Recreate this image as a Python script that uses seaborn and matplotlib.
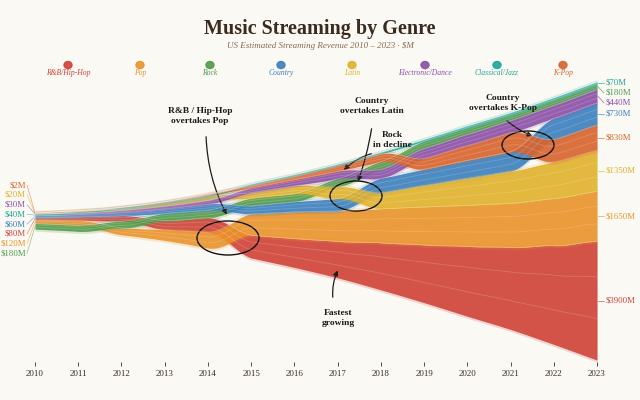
import numpy as np
import pandas as pd
import matplotlib
matplotlib.use("Agg")
import matplotlib.pyplot as plt
from matplotlib.patches import Ellipse, FancyArrowPatch
import seaborn as sns

# data ($M, US estimated streaming revenue)

years = list(range(2010, 2024))
genres = ["R&B / Hip-Hop", "Pop", "Rock", "Country", "Latin",
          "Electronic/Dance", "Classical/Jazz", "K-Pop"]
rnb = [80, 120, 180, 300, 480, 750, 950, 1200, 1550, 1900, 2300, 2700, 3250, 3900]
pop = [120, 160, 230, 350, 520, 700, 880, 1000, 1120, 1250, 1350, 1450, 1550, 1650]
rock = [180, 200, 220, 240, 250, 260, 270, 270, 260, 240, 220, 200, 190, 180]
country = [60, 80, 110, 150, 200, 260, 330, 410, 480, 540, 600, 650, 700, 730]
latin = [20, 30, 50, 80, 120, 180, 260, 380, 520, 700, 880, 1050, 1200, 1350]
electronic = [30, 45, 65, 90, 120, 160, 200, 250, 290, 330, 370, 400, 420, 440]
classical = [40, 42, 45, 48, 50, 52, 55, 58, 60, 62, 64, 66, 68, 70]
kpop = [2, 5, 10, 20, 40, 70, 110, 170, 250, 350, 480, 620, 740, 830]
colors = ["#cf4137", "#ea9228", "#4f9a48", "#3a7fbd", "#e0b12a",
          "#8a4fa6", "#1ea596", "#d8632a"]

df = pd.DataFrame({"R&B / Hip-Hop": rnb, "Pop": pop, "Rock": rock, "Country": country,
                   "Latin": latin, "Electronic/Dance": electronic,
                   "Classical/Jazz": classical, "K-Pop": kpop}, index=years)

bg = "#fbf9f4"
sns.set_theme(style="white")
plt.rcParams["font.family"] = ["Liberation Serif", "DejaVu Serif"]

fig = plt.figure(figsize=(6.4, 4.0), dpi=100, facecolor=bg)
ax = fig.add_axes([35 / 640, 1 - 362 / 400, 562 / 640, 292 / 400])
ax.set_facecolor(bg)
ax.set_xlim(2010, 2023)
ax.set_ylim(-4638, 4967)
for s in ax.spines.values():
    s.set_visible(False)

# ranked silhouette stream: smallest genre on top each year
# positions kept as fractions of the yearly total
total = df.sum(axis=1)
ftop = pd.DataFrame(index=years, columns=genres, dtype=float)
fbot = pd.DataFrame(index=years, columns=genres, dtype=float)
for y in years:
    row = df.loc[y].sort_values()
    cur = 0.0
    for g, v in row.items():
        ftop.loc[y, g] = cur
        cur += v / total[y]
        fbot.loc[y, g] = cur

steps = 40


def dense_x():
    xs = [years[i] + np.linspace(0, 1, steps, endpoint=False) for i in range(len(years) - 1)]
    return np.concatenate(xs + [[years[-1]]])


def sig(col):
    vals = np.asarray(col, dtype=float)
    out = []
    for i in range(len(vals) - 1):
        t = np.linspace(0, 1, steps, endpoint=False)
        s = 0.8 * (1 - np.cos(np.pi * t)) / 2 + 0.2 * t
        out.append(vals[i] + (vals[i + 1] - vals[i]) * s)
    return np.concatenate(out + [[vals[-1]]])


def spline(col):
    # Catmull-Rom through the yearly totals
    p = np.asarray(col, dtype=float)
    p = np.concatenate([[2 * p[0] - p[1]], p, [2 * p[-1] - p[-2]]])
    out = []
    for i in range(1, len(p) - 2):
        t = np.linspace(0, 1, steps, endpoint=False)
        p0, p1, p2, p3 = p[i - 1], p[i], p[i + 1], p[i + 2]
        out.append(0.5 * (2 * p1 + (-p0 + p2) * t + (2 * p0 - 5 * p1 + 4 * p2 - p3) * t ** 2
                          + (-p0 + 3 * p1 - 3 * p2 + p3) * t ** 3))
    return np.concatenate(out + [[p[-2]]])


x = dense_x()
T = spline(total.values)
pad = 70
for g, c in zip(genres, colors):
    top = T / 2 - sig(ftop[g]) * T
    bot = T / 2 - sig(fbot[g]) * T
    ax.fill_between(x, bot - pad, top + pad, color=c, alpha=0.2, lw=0)
    ax.fill_between(x, bot, top, color=c, alpha=0.88, lw=0)
    lines = pd.DataFrame({"x": np.concatenate([x, x]),
                          "y": np.concatenate([bot + (top - bot) * 0.35, bot + (top - bot) * 0.7]),
                          "k": ["a"] * len(x) + ["b"] * len(x)})
    sns.lineplot(data=lines, x="x", y="y", units="k", estimator=None, ax=ax,
                 color="white", alpha=0.18, lw=0.6)
    ax.plot(x, top, color="white", alpha=0.35, lw=0.5)

ax.set_xticks(years)
ax.set_xticklabels([str(y) for y in years], fontsize=6.5, color="#3a2e25")
ax.tick_params(axis="x", length=3, width=0.6, color="#3a2e25", pad=3, bottom=True)
ax.set_yticks([])
ax.set_xlabel("")
ax.set_ylabel("")


# pixel helpers
def px2data(px, py):
    xx = 2010 + (px - 35) / 562 * 13
    yy = -4638 + (362 - py) / 292 * (4967 + 4638)
    return xx, yy


def data2py(v):
    return 362 - (v + 4638) / (4967 + 4638) * 292


def center(y, g):
    return total[y] / 2 - (ftop.loc[y, g] + fbot.loc[y, g]) / 2 * total[y]


# right labels
last = years[-1]
order = df.loc[last].sort_values().index
cent = [data2py(center(last, g)) for g in order]
lab = list(cent)
for i in range(1, len(lab)):
    lab[i] = max(lab[i], lab[i - 1] + 10)
for g, cy, ly in zip(order, cent, lab):
    c = colors[genres.index(g)]
    x0, y0 = px2data(598, cy)
    x1, y1 = px2data(604, ly)
    ax.plot([x0, x1], [y0, y1], color=c, lw=0.6, alpha=0.7, clip_on=False)
    fig.text(606 / 640, 1 - ly / 400, f"${df.loc[last, g]:.0f}M", color=c,
             fontsize=6.3, va="center", ha="left")

# left labels
first = years[0]
order = df.loc[first].sort_values().index
for i, g in enumerate(order):
    c = colors[genres.index(g)]
    ly = 185 + i * 9.8
    cy = data2py(center(first, g))
    x0, y0 = px2data(27, ly)
    x1, y1 = px2data(35, cy)
    ax.plot([x0, x1], [y0, y1], color=c, lw=0.5, alpha=0.6, clip_on=False)
    fig.text(26 / 640, 1 - ly / 400, f"${df.loc[first, g]:.0f}M", color=c,
             fontsize=6.3, va="center", ha="right")

# title and legend
fig.text(0.5, 1 - 29 / 400, "Music Streaming by Genre", ha="center", va="center",
         fontsize=14.5, fontweight="bold", color="#3b2a1f")
fig.text(0.5, 1 - 46 / 400, "US Estimated Streaming Revenue 2010 – 2023 · $M", ha="center",
         va="center", fontsize=6.5, style="italic", color="#8a6a52")
leg_x = [68, 140, 210, 281, 352, 425, 497, 563]
for g, c, lx in zip(genres, colors, leg_x):
    fig.patches.append(Ellipse((lx / 640, 1 - 65 / 400), 8 / 640, 7 / 400,
                               transform=fig.transFigure, color=c, alpha=0.9))
    fig.text(lx / 640, 1 - 73 / 400, g.replace(" / ", "/"), ha="center", va="center",
             fontsize=5.5, style="italic", color=c)


# annotations
def note(txt, tx, ty, ax0, ay0, ax1, ay1, rad):
    fig.text(tx / 640, 1 - ty / 400, txt, ha="center", va="center", fontsize=6.8,
             fontweight="bold", color="#1c1c1c", linespacing=1.3)
    p0 = px2data(ax0, ay0)
    p1 = px2data(ax1, ay1)
    ax.add_patch(FancyArrowPatch(p0, p1, connectionstyle=f"arc3,rad={rad}",
                                 arrowstyle="-|>", mutation_scale=7, lw=0.9,
                                 color="#1c1c1c", clip_on=False))


def ring(cx, cy, w, h):
    xx, yy = px2data(cx, cy)
    ww = w / 562 * 13
    hh = h / 292 * (4967 + 4638)
    ax.add_patch(Ellipse((xx, yy), ww, hh, fill=False, ec="#111111", lw=1.0, clip_on=False))


note("R&B / Hip-Hop\novertakes Pop", 200, 116, 206, 134, 228, 217, 0.12)
ring(228, 238, 62, 34)
note("Country\novertakes Latin", 372, 106, 372, 126, 357, 184, -0.05)
ring(356, 196, 52, 30)
note("Rock\nin decline", 392, 140, 374, 153, 342, 172, 0.15)
note("Country\novertakes K-Pop", 503, 103, 505, 119, 535, 137, 0.1)
ring(528, 145, 52, 28)
note("Fastest\ngrowing", 338, 318, 333, 300, 339, 268, -0.15)

fig.savefig("out.png", dpi=100, facecolor=bg)
